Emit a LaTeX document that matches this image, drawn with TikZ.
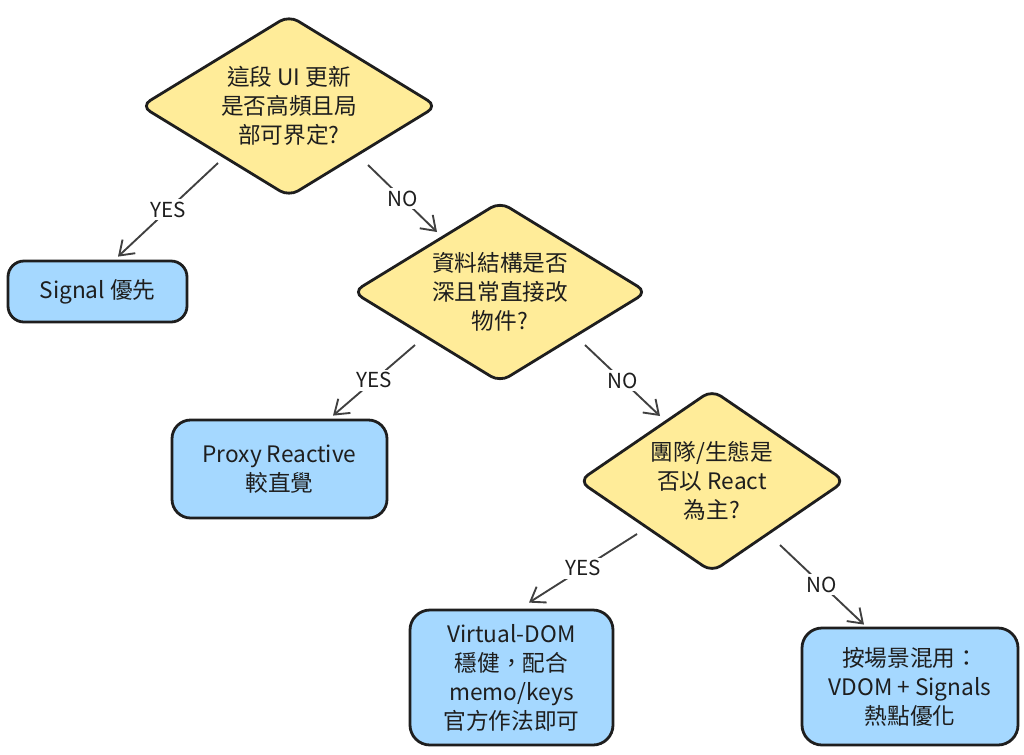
\documentclass[tikz,border=0pt]{standalone}
\usepackage{fontspec}
\setmainfont{Noto Sans CJK TC}
\usetikzlibrary{shapes.geometric,arrows.meta,calc}
\definecolor{ink}{HTML}{1E1E1E}
\definecolor{dyel}{HTML}{FFEC99}
\definecolor{bblue}{HTML}{A5D8FF}
\begin{document}
\begin{tikzpicture}[x=0.75pt,y=-0.75pt,
  dia/.style={diamond, draw=ink, line width=2.1pt, fill=dyel, rounded corners=8pt, inner sep=0pt},
  dtext/.style={align=center, text=ink, font=\fontsize{17}{21.75}\selectfont, inner sep=0pt},
  rbox/.style={draw=ink, line width=2.1pt, fill=bblue, rounded corners=12pt, align=center, inner sep=0pt, text=ink, font=\fontsize{17}{21.75}\selectfont},
  lab/.style={fill=white, inner sep=2pt, text=ink, font=\fontsize{15.5}{17}\selectfont},
  arr/.style={draw=ink!85, line width=1.4pt, -{Straight Barb[length=10pt,width=14pt]}}]
\useasboundingbox (0,0) rectangle (1024,754);
\fill[white] (0,0) rectangle (1024,754);

% decisions
\node[dia, minimum width=297*0.75pt, minimum height=182*0.75pt] (d1) at (289,106) {};
\node[dtext] (t1) at (d1) {這段 UI 更新\\是否高頻且局\\部可界定?};
\node[dia, minimum width=295*0.75pt, minimum height=181*0.75pt] (d2) at (500,292) {};
\node[dtext] (t2) at (d2) {資料結構是否\\深且常直接改\\物件?};
\node[dia, minimum width=267*0.75pt, minimum height=183*0.75pt] (d3) at (712,481) {};
\node[dtext] (t3) at (d3) {團隊/生態是\\否以 React\\為主?};

% outcomes
\node[rbox, minimum width=179*0.75pt, minimum height=61*0.75pt] (sig) at (97.5,291.5) {Signal 優先};
\node[rbox, minimum width=215*0.75pt, minimum height=98*0.75pt, rounded corners=14pt] (prx) at (279.5,469) {Proxy Reactive\\較直覺};
\node[rbox, minimum width=203*0.75pt, minimum height=135*0.75pt, rounded corners=15pt] (vd) at (511.5,677.5) {Virtual-DOM\\穩健，配合\\memo/keys\\官方作法即可};
\node[rbox, minimum width=216*0.75pt, minimum height=117*0.75pt, rounded corners=15pt] (mix) at (910,686.5) {按場景混用：\\VDOM + Signals\\熱點優化};

% connectors
\draw[arr] ($(d1)+(-71,57)$) -- node[lab]{YES} ($(sig.north)+(20.5,-3)$);
\draw[arr] ($(d1)+(79,59)$) -- node[lab]{NO} ($(d2)+(-63,-60)$);
\draw[arr] ($(d2)+(-85,53)$) -- node[lab]{YES} ($(prx.north)+(53.5,-3)$);
\draw[arr] ($(d2)+(85,53)$) -- node[lab]{NO} ($(d3)+(-52,-65)$);
\draw[arr] ($(d3)+(-75,53)$) -- node[lab]{YES} ($(vd.north)+(17.5,-6)$);
\draw[arr] ($(d3)+(68,64)$) -- node[lab]{NO} ($(mix.north)+(-46,-2)$);
\end{tikzpicture}
\end{document}
